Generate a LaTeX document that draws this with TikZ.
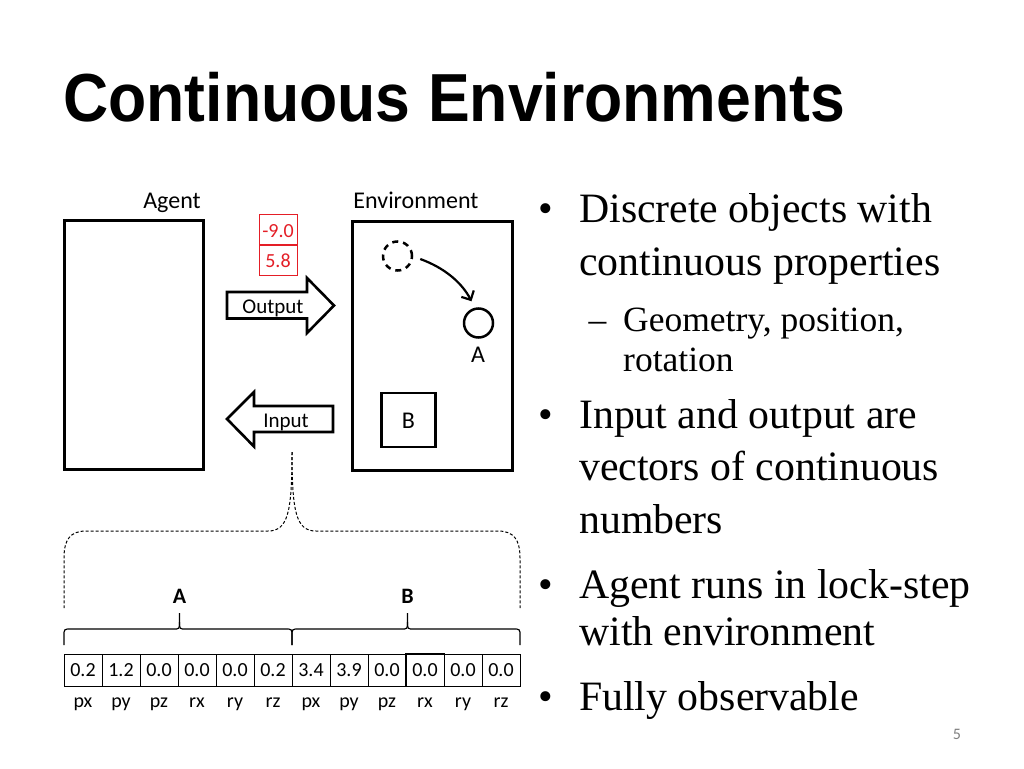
\documentclass[tikz,border=0pt]{standalone}
\usepackage{fontspec}
\usepackage{graphicx}
\setmainfont{Liberation Serif}
\newfontfamily\carl{Carlito}
\newfontfamily\titlefont{Liberation Sans}
\usetikzlibrary{arrows.meta,calc}
\definecolor{redbox}{RGB}{228,30,38}
\definecolor{pagegray}{RGB}{128,128,128}
\begin{document}
\begin{tikzpicture}[x=1pt,y=-1pt,
  thickbox/.style={draw,line width=3pt},
  lbl/.style={font=\carl\fontsize{24}{24}\selectfont,inner sep=0,anchor=base},
  arrowlbl/.style={font=\carl\fontsize{21}{21}\selectfont,inner sep=0,anchor=base},
  small/.style={font=\carl\fontsize{20}{20}\selectfont,inner sep=0,anchor=base},
  boldlbl/.style={font=\carl\bfseries\fontsize{22}{22}\selectfont,inner sep=0,anchor=base},
  cell/.style={draw,line width=1pt,minimum width=38pt,minimum height=32pt,inner sep=0},
  redcell/.style={draw=redbox,line width=1pt,minimum width=38pt,minimum height=30pt,inner sep=0},
  bigarrow/.style={draw,line width=2.6pt,line join=miter},
  bullettext/.style={font=\fontsize{41.8}{41.8}\selectfont,inner sep=0,anchor=base west},
  subtext/.style={font=\fontsize{35.5}{35.5}\selectfont,inner sep=0,anchor=base west},
  dashbrace/.style={draw,line width=1pt,dash pattern=on 3pt off 2pt},
  smallbrace/.style={draw,line width=1.2pt},
]
\useasboundingbox[fill=white] (0,0) rectangle (1024,768);

% Title
\node[inner sep=0,anchor=base west] (title) at (63,121)
  {\scalebox{0.92}[1]{\titlefont\bfseries\fontsize{68}{68}\selectfont Continuous Environments}};

% Agent and environment
\node[lbl] (agentlbl) at (172,208) {Agent};
\node[lbl] (envlbl) at (416,208) {Environment};
\node[thickbox,minimum width=139pt,minimum height=249pt,inner sep=0] (agentbox) at (133.5,344.5) {};
\node[thickbox,minimum width=160pt,minimum height=249pt,inner sep=0] (envbox) at (432,345.5) {};

% red output vector
\node[redcell] (r1) at (278,229.5) {};
\node[redcell] (r2) at (278,260) {};
\node[small,text=redbox] (r1t) at (278,237) {-9.0};
\node[small,text=redbox] (r2t) at (278,267) {5.8};

% Output arrow
\draw[bigarrow] (227,292) -- (307,292) -- (307,278) -- (334,305.5) -- (307,333) -- (307,318.5) -- (227,318.5) -- cycle;
\node[arrowlbl] (outlbl) at (273,313) {Output};

% Input arrow
\draw[bigarrow] (333,406) -- (254,406) -- (254,392) -- (227,419) -- (254,446.5) -- (254,432) -- (333,432) -- cycle;
\node[arrowlbl] (inlbl) at (286,427) {Input};

% Objects in environment
\node[draw,circle,line width=2.5pt,dash pattern=on 6pt off 5pt,minimum size=29pt,inner sep=0] (ghost) at (397.5,256) {};
\node[draw,circle,line width=2.5pt,minimum size=29pt,inner sep=0] (objA) at (478.5,323) {};
\node[lbl] (Alabel) at (478,362.5) {A};
\coordinate (mvstart) at ($(ghost.east)+(7,3)$);
\coordinate (mvend) at ($(objA.north)+(-7,-6)$);
\draw[line width=2.2pt,-{Straight Barb[length=7pt,width=14pt,line width=2.2pt]}]
  (mvstart) .. controls (445,268) and (462,283) .. (mvend);
\node[draw,line width=2.5pt,minimum width=54pt,minimum height=54pt,inner sep=0] (objB) at (408.5,420) {};
\node[lbl] (Blabel) at (408.5,428.3) {B};

% Dashed big brace
\coordinate (bt) at (292,452);
\coordinate (bl) at (64,608);
\coordinate (br) at (520,608);
\draw[dashbrace] (bt) .. controls (292,512) and (288,531) .. (268,531) -- (86,531)
  .. controls (70,531) and (64,540) .. (64,558) -- (bl);
\draw[dashbrace] (bt) .. controls (292,512) and (296,531) .. (316,531) -- (498,531)
  .. controls (514,531) and (520,540) .. (520,558) -- (br);

% Group labels
\node[boldlbl] (gA) at (179.5,603.3) {A};
\node[boldlbl] (gB) at (407.5,603.3) {B};

% Small braces
\draw[smallbrace] (64,645) -- (64,636) .. controls (64,629) .. (71,629) -- (173,629)
  .. controls (179.5,629) .. (179.5,622) -- (179.5,613);
\draw[smallbrace] (179.5,622) .. controls (179.5,629) .. (186,629) -- (285,629)
  .. controls (292,629) .. (292,636) -- (292,645);
\draw[smallbrace] (292,645) -- (292,636) .. controls (292,629) .. (299,629) -- (401,629)
  .. controls (407.5,629) .. (407.5,622) -- (407.5,613);
\draw[smallbrace] (407.5,622) .. controls (407.5,629) .. (414,629) -- (513,629)
  .. controls (520,629) .. (520,636) -- (520,645);

% Cells
\foreach \v/\l [count=\i] in {0.2/px,1.2/py,0.0/pz,0.0/rx,0.0/ry,0.2/rz,3.4/px,3.9/py,0.0/pz,0.0/rx,0.0/ry,0.0/rz}{
  \node[cell] (c\i) at ({64+38*(\i-0.5)},670) {};
  \node[small] (ct\i) at ({64+38*(\i-0.5)},676.7) {\v};
  \node[small] (cl\i) at ({64+38*(\i-0.5)},707) {\l};
}
\draw[line width=1.4pt] (c10.south west) rectangle (c10.north east);

% Bullets
\foreach \y/\t/\b in {222.7/Discrete objects with/1,275/continuous properties/0,428.3/Input and output are/1,480.5/vectors of continuous/0,533/numbers/0,598/Agent runs in lock-step/1,645.7/with environment/0,710/Fully observable/1}{
  \node[bullettext] (bt\y) at (579,\y) {\t};
  \ifnum\b=1 \node[bullettext,anchor=base] (bu\y) at (546,\y) {\textbullet}; \fi
}
\node[subtext] (s1) at (623,331.7) {Geometry, position,};
\node[subtext] (s2) at (623,371) {rotation};
\node[subtext,anchor=base] (sd) at (597.5,331.7) {--};

% page number
\node[font=\carl\fontsize{16}{16}\selectfont,text=pagegray,inner sep=0,anchor=base] (pg) at (957,739) {5};
\end{tikzpicture}
\end{document}
